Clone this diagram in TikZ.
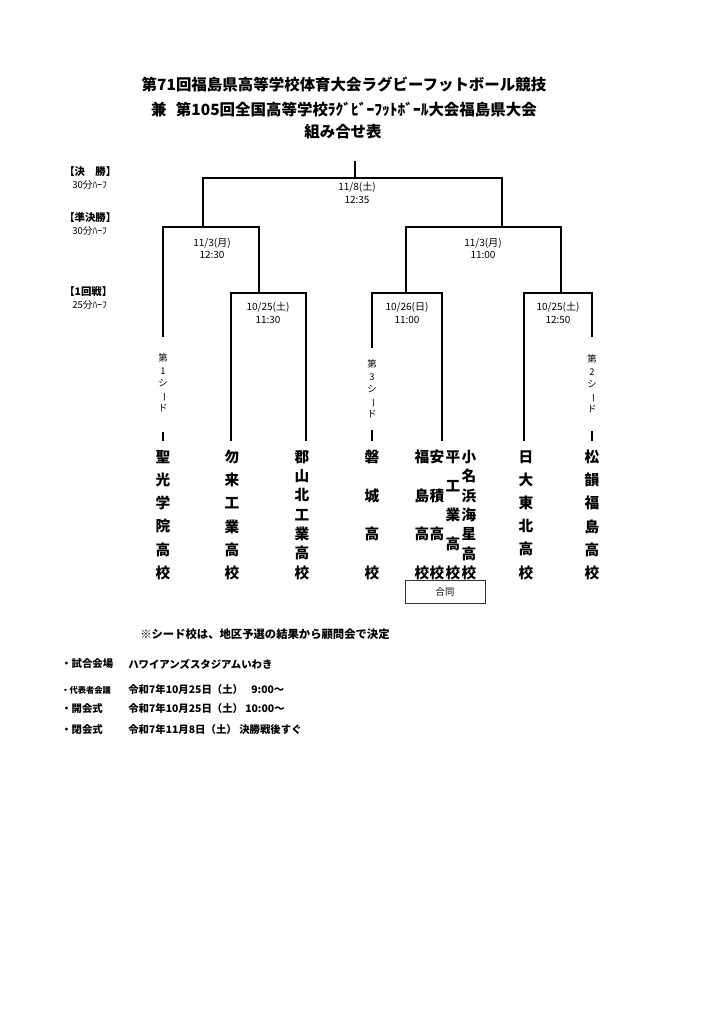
\documentclass[tikz,border=0pt]{standalone}
\usepackage{fontspec}
\usepackage{tikz}
\usepackage{xcolor}
\setmainfont{Noto Sans CJK JP}

\begin{document}
\begin{tikzpicture}[x=0.75pt,y=0.75pt,yscale=-1,xscale=1,
  bline/.style={line width=1.6pt},
  ttl/.style={font=\bfseries\fontsize{11.6}{14}\selectfont, inner sep=0pt},
  date/.style={font=\fontsize{7.5}{9.5}\selectfont, align=center, inner sep=0pt},
  school/.style={font=\bfseries\fontsize{11}{#1}\selectfont, align=center, inner sep=0pt},
  seed/.style={font=\fontsize{7}{9.4}\selectfont, align=center, inner sep=0pt},
  rnd/.style={font=\bfseries\fontsize{7.8}{9}\selectfont, anchor=west, inner sep=0pt},
  hafu/.style={font=\fontsize{7.2}{8}\selectfont, anchor=west, inner sep=0pt},
  info/.style={font=\bfseries\fontsize{7.8}{9}\selectfont, anchor=west, inner sep=0pt}]
\useasboundingbox (0,0) rectangle (724,1024);

% Title
\node[ttl] (title1) at (344,85) {第71回福島県高等学校体育大会ラグビーフットボール競技};
\node[ttl] (title2) at (344,110) {兼\hspace{0.6em}第105回全国高等学校ﾗｸﾞﾋﾞｰﾌｯﾄﾎﾞｰﾙ大会福島県大会};
\node[ttl] (title3) at (343,132) {組み合せ表};

% Round labels
\node[rnd] (r-fin) at (64,172) {【決　勝】};
\node[hafu] (h-fin) at (72,185) {30分ﾊｰﾌ};
\node[rnd] (r-semi) at (64,218) {【準決勝】};
\node[hafu] (h-semi) at (72,231) {30分ﾊｰﾌ};
\node[rnd] (r-first) at (64,292) {【1回戦】};
\node[hafu] (h-first) at (72,305) {25分ﾊｰﾌ};

% Bracket points
\coordinate (top) at (355,161);
\coordinate (fin) at (355,178);
\coordinate (s1) at (203,227);
\coordinate (s2) at (502,227);
\coordinate (m1) at (259,293);
\coordinate (m2) at (406,293);
\coordinate (m3) at (561,293);
\coordinate (seiko-t) at (163,337);
\coordinate (nakoso-t) at (231,441);
\coordinate (kori-t) at (306,441);
\coordinate (iwaki-t) at (372,348);
\coordinate (godo-t) at (442,441);
\coordinate (nichidai-t) at (524,441);
\coordinate (shoin-t) at (592,337);

%Straight Lines
\draw[bline] (nakoso-t) |- (m1) -| (kori-t);
\draw[bline] (iwaki-t) |- (m2) -| (godo-t);
\draw[bline] (nichidai-t) |- (m3) -| (shoin-t);
\draw[bline] (seiko-t) |- (s1) -| (m1);
\draw[bline] (m2) |- (s2) -| (m3);
\draw[bline] (s1) |- (fin) -| (s2);
\draw[bline] (fin) -- (top);

% Dates
\node[date] (d-fin) at (357,193) {11/8(土)\\12:35};
\node[date] (d-s1) at (212,248.5) {11/3(月)\\12:30};
\node[date] (d-s2) at (483,248.5) {11/3(月)\\11:00};
\node[date] (d-m1) at (268,313) {10/25(土)\\11:30};
\node[date] (d-m2) at (407,313) {10/26(日)\\11:00};
\node[date] (d-m3) at (558,313) {10/25(土)\\12:50};

% Seeds
\node[seed] (seed1) at (163,383) {第\\1\\シ\\\rotatebox[origin=c]{-90}{ー}\\ド};
\node[seed] (seed3) at (372,389) {第\\3\\シ\\\rotatebox[origin=c]{-90}{ー}\\ド};
\node[seed] (seed2) at (592,384) {第\\2\\シ\\\rotatebox[origin=c]{-90}{ー}\\ド};
\coordinate (seed1-a) at (163,432);
\coordinate (seed1-b) at (163,441);
\coordinate (seed3-a) at (372,430);
\coordinate (seed3-b) at (372,441);
\coordinate (seed2-a) at (592,431);
\coordinate (seed2-b) at (592,441);
\draw[bline] (seed1-a) -- (seed1-b);
\draw[bline] (seed3-a) -- (seed3-b);
\draw[bline] (seed2-a) -- (seed2-b);

% Schools
\node[school=17.4pt] (seiko) at (163,515) {聖\\光\\学\\院\\高\\校};
\node[school=17.4pt] (nakoso) at (232,515) {勿\\来\\工\\業\\高\\校};
\node[school=14.5pt] (kori) at (302,515) {郡\\山\\北\\工\\業\\高\\校};
\node[school=29pt] (iwaki) at (372,515) {磐\\城\\高\\校};
\node[school=29pt] (fukushima) at (422,515) {福\\島\\高\\校};
\node[school=29pt] (asaka) at (437,515) {安\\積\\高\\校};
\node[school=21.75pt] (taira) at (453,515) {平\\工\\業\\高\\校};
\node[school=14.5pt] (onahama) at (469,515) {小\\名\\浜\\海\\星\\高\\校};
\node[school=17.4pt] (nichidai) at (526,515) {日\\大\\東\\北\\高\\校};
\node[school=17.4pt] (shoin) at (592,515) {松\\韻\\福\\島\\高\\校};
\node[draw=black!80, line width=0.6pt, minimum width=60pt, minimum height=17.25pt, font=\fontsize{7}{8}\selectfont] (godo) at (445,591.5) {合同};

% Notes
\node[font=\bfseries\fontsize{8.5}{10}\selectfont, anchor=west, inner sep=0pt] (note) at (140,634) {※シード校は、地区予選の結果から顧問会で決定};
\node[info] (venue-l) at (61,664) {・試合会場};
\node[info] (venue) at (128,664) {ハワイアンズスタジアムいわき};
\node[info, font=\bfseries\fontsize{6.2}{7}\selectfont] (meet-l) at (61,690) {・代表者会議};
\node[info] (meet) at (128,690) {令和7年10月25日（土）};
\node[info] (meet-t) at (251,690) {9:00～};
\node[info] (open-l) at (61,709) {・開会式};
\node[info] (open) at (128,709) {令和7年10月25日（土）};
\node[info] (open-t) at (245,709) {10:00～};
\node[info] (close-l) at (61,730) {・閉会式};
\node[info] (close) at (128,730) {令和7年11月8日（土）};
\node[info] (close-t) at (239,730) {決勝戦後すぐ};

\end{tikzpicture}
\end{document}
